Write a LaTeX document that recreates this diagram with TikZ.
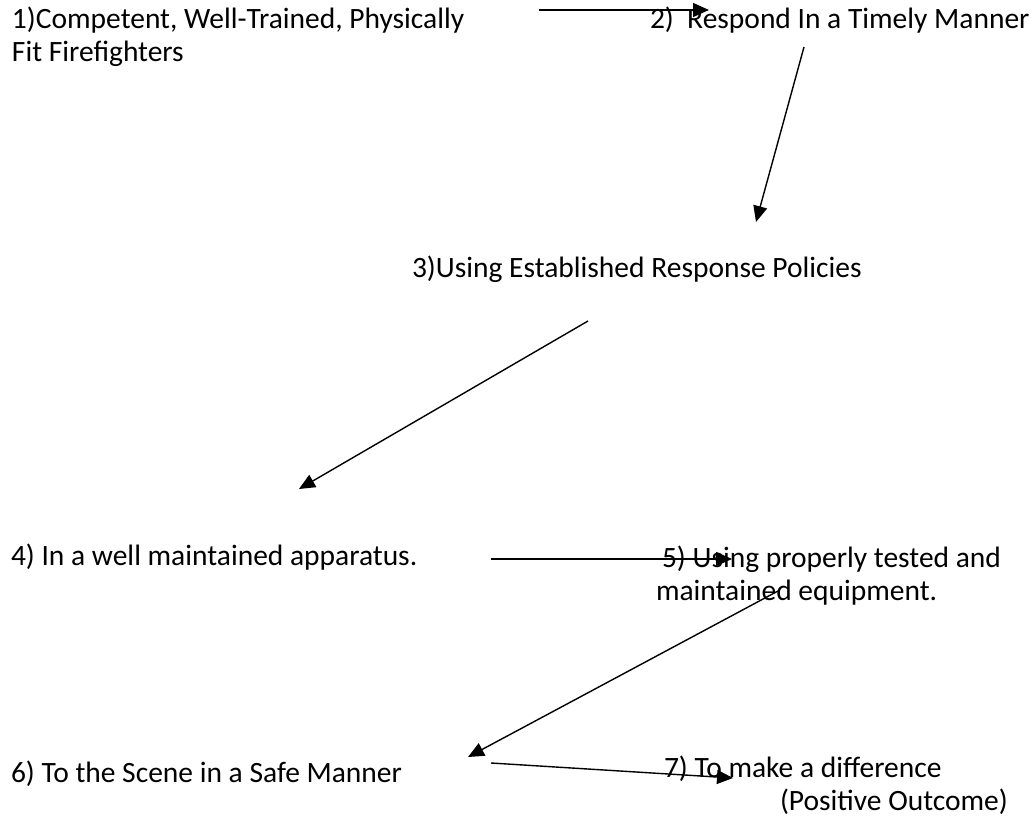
\documentclass[tikz,border=0pt]{standalone}
\usepackage{fontspec}
\setmainfont{Carlito}
\usetikzlibrary{arrows.meta}
\begin{document}
\begin{tikzpicture}[x=1pt,y=-1pt,
  lbl/.style={anchor=base west,inner sep=0pt,outer sep=0pt,align=left,
    font=\fontsize{29.5}{33}\selectfont},
  conn/.style={line width=1.4pt,-{Triangle[length=16pt,width=14pt]}}]
\useasboundingbox (0,0) rectangle (1034,822);
% texts (anchor = baseline of last line)
\node[lbl] (t1) at (12,61) {1)Competent, Well-Trained, Physically\\Fit Firefighters};
\node[lbl] (t2) at (650,28) {2)~~Respond In a Timely Manner};
\node[lbl] (t3) at (412,277) {3)Using Established Response Policies};
\node[lbl] (t4) at (11,565) {4) In a well maintained apparatus.};
\node[lbl] (t5) at (662,600) {5) Using properly tested and\\\hspace*{-6pt}maintained equipment.};
\node[lbl] (t6) at (11,782) {6) To the Scene in a Safe Manner};
\node[lbl] (t7) at (664,810) {7) To make a difference\\\hspace*{116pt}(Positive Outcome)};
% connector end points
\coordinate (a1s) at (539,10);  \coordinate (a1e) at (709,10);
\coordinate (a2s) at (804,47);  \coordinate (a2e) at (756,222);
\coordinate (a3s) at (588,321); \coordinate (a3e) at (299,489);
\coordinate (a4s) at (491,559); \coordinate (a4e) at (732,559);
\coordinate (a5s) at (778,591); \coordinate (a5e) at (468,757);
\coordinate (a6s) at (491,763); \coordinate (a6e) at (733,778);
\draw[conn] (a1s) -- (a1e);
\draw[conn] (a2s) -- (a2e);
\draw[conn] (a3s) -- (a3e);
\draw[conn] (a4s) -- (a4e);
\draw[conn] (a5s) -- (a5e);
\draw[conn] (a6s) -- (a6e);
\end{tikzpicture}
\end{document}
